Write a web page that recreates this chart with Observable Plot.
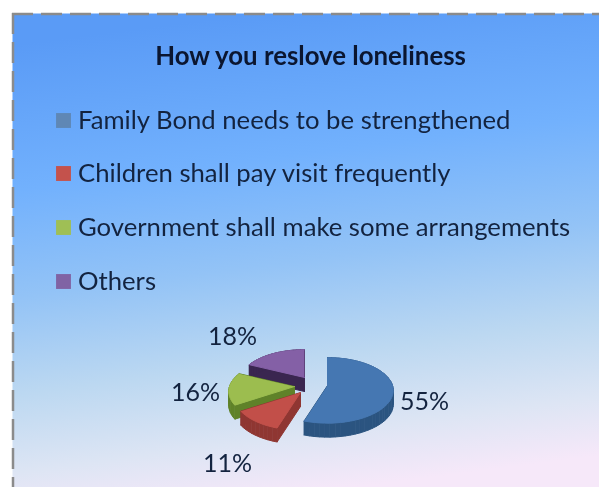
<!DOCTYPE html>
<html>
<head>
<meta charset="utf-8">
<script src="https://cdn.jsdelivr.net/npm/d3@7"></script>
<script src="https://cdn.jsdelivr.net/npm/@observablehq/plot@0.6"></script>
<style>html,body{margin:0;padding:0;background:#fff}svg{display:block;filter:blur(0.6px)}</style>
</head>
<body>
<script>
const chartTitle = "How you reslove loneliness";
const categories = ["Family Bond needs to be strengthened","Children shall pay visit frequently","Government shall make some arrangements","Others"];
const values = [55, 11, 16, 18];
const valueLabels = ["55%","11%","16%","18%"];
const topColors = ["#4577b2","#c24f49","#9cbd4f","#8460a6"];
const sideColors = ["#2b5480","#8f3632","#5f8229","#3a2650"];
const legendColors = ["#5f87b5","#c4524c","#9fbf55","#8063a4"];
const legendRowY = [120,173,227,281];
const sliceCenterX = [327,300,294,304];
const sliceCenterY = [385,392,386,377];
const labelX = [424,227,195,232];
const labelY = [401,463,392,336];

const RX = 65, RY = 32, P = 0.15, DEPTH = 14;
const project = (i, deg) => {
  const a = deg * Math.PI / 180, u = Math.sin(a), v = -Math.cos(a), s = 1 / (1 - P * v);
  return [sliceCenterX[i] + RX * u * s, sliceCenterY[i] + RY * v * s];
};
const total = d3.sum(values);
let start = 0;
const outlines = values.map((val, i) => {
  const end = start + val / total * 360, pts = [[sliceCenterX[i], sliceCenterY[i]]];
  const n = Math.ceil((end - start) / 4);
  for (let k = 0; k <= n; k++) pts.push(project(i, start + (end - start) * k / n));
  start = end;
  return pts;
});
const pieces = [];
for (const i of [3,2,1,0]) {
  const pts = outlines[i];
  pts.forEach((p, k) => {
    const q = pts[(k + 1) % pts.length], id = `s${i}-${k}`;
    [[p[0],p[1]],[q[0],q[1]],[q[0],q[1]+DEPTH],[p[0],p[1]+DEPTH]].forEach(c =>
      pieces.push({id, px:c[0], py:c[1], color:sideColors[i]}));
  });
  pts.forEach(p => pieces.push({id:`t${i}`, px:p[0], py:p[1], color:topColors[i]}));
}

const defs = () => d3.create("svg:defs").html(`<linearGradient id="bg" x1="0.42" y1="0" x2="0.58" y2="1">
<stop offset="0" stop-color="#5a9bf6"/><stop offset="0.3" stop-color="#72b1fd"/>
<stop offset="0.52" stop-color="#93c3f6"/><stop offset="0.72" stop-color="#bcd8f1"/>
<stop offset="0.88" stop-color="#dde5f4"/><stop offset="1" stop-color="#f6e8f9"/></linearGradient>`).node();

const ink = "#13233f";
const font = "Lato, Carlito, sans-serif";
const chart = Plot.plot({
  width: 599, height: 487, margin: 0,
  x: {domain:[0,599], range:[0,599], axis:null},
  y: {domain:[0,487], range:[0,487], axis:null},
  color: {type:"identity"},
  style: {background:"#fff", fontFamily:font},
  marks: [
    defs,
    Plot.frame({fill:"url(#bg)", stroke:"none", insetLeft:12, insetTop:13}),
    Plot.ruleX([12.5], {y1:13, y2:487, stroke:"#8b8b8b", strokeWidth:2.5, strokeDasharray:"21 8", strokeOpacity:1}),
    Plot.ruleY([13.5], {x1:12, x2:599, stroke:"#8b8b8b", strokeWidth:2.5, strokeDasharray:"21 8", strokeOpacity:1}),
    Plot.text([chartTitle], {x:()=>310, y:()=>56, text:d=>d, fontSize:25.8, fontWeight:700, fill:"#0b1630"}),
    Plot.dot(categories, {x:()=>63, y:(d,i)=>legendRowY[i], symbol:"square", r:8.4, fill:(d,i)=>legendColors[i], stroke:"none"}),
    Plot.text(categories, {x:()=>77.5, y:(d,i)=>legendRowY[i], text:d=>d, textAnchor:"start", fontSize:25.7, fill:ink}),
    Plot.line(pieces, {x:"px", y:"py", z:"id", fill:"color", stroke:"color", strokeWidth:1}),
    Plot.text(valueLabels, {x:(d,i)=>labelX[i], y:(d,i)=>labelY[i], text:d=>d, fontSize:25, fill:ink})
  ]
});
document.body.appendChild(chart);
</script>
</body>
</html>
